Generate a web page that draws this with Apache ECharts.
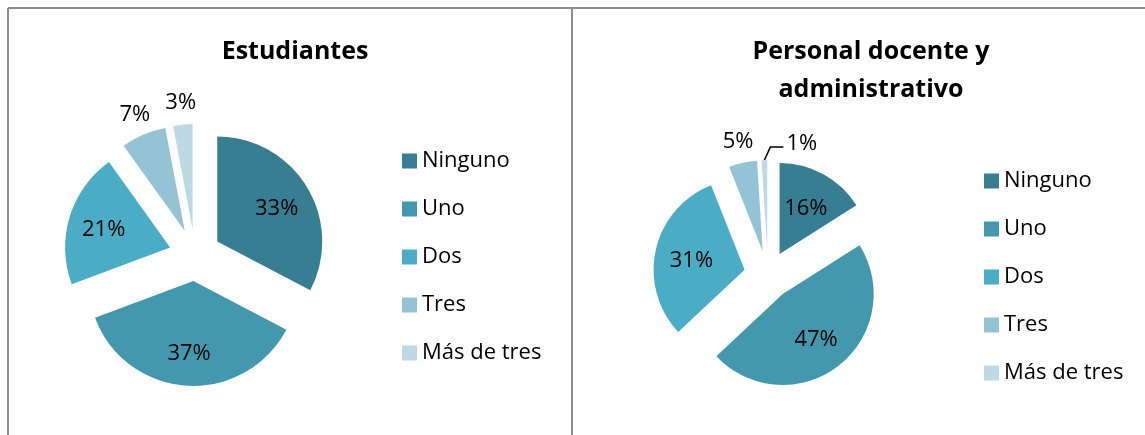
<!DOCTYPE html>
<html>
<head>
<meta charset="utf-8">
<script src="https://cdn.jsdelivr.net/npm/echarts@6/dist/echarts.min.js"></script>
<style>
html, body { margin: 0; padding: 0; background: #ffffff; }
#chart { width: 1145px; height: 435px; }
</style>
</head>
<body>
<div id="chart"></div>
<script>
const categories = ['Ninguno', 'Uno', 'Dos', 'Tres', 'Más de tres']
const estudiantes = [33, 37, 21, 7, 3]
const personal = [16, 47, 31, 5, 1]
const titles = ['Estudiantes', 'Personal docente y\nadministrativo']

const colors = ['#377e92', '#4398ae', '#4aacc5', '#93c3d4', '#bcd9e4']
const font = '"Open Sans", "Noto Sans", sans-serif'

const seriesValues = [estudiantes, personal]
// push inner labels a bit further out than echarts' half radius
const innerPush = [14, 6]

const midAngle = (values, i) => {
  const total = values.reduce((a, b) => a + b, 0)
  let before = 0
  for (let k = 0; k < i; k++) before += values[k]
  return (before + values[i] / 2) / total * Math.PI * 2
}

const layoutLabel = (params) => {
  const values = seriesValues[params.seriesIndex]
  const a = midAngle(values, params.dataIndex)
  if (params.dataIndex < 3) {
    const k = innerPush[params.seriesIndex]
    return { dx: k * Math.sin(a), dy: -k * Math.cos(a) + 3 }
  }
  if (params.seriesIndex === 1 && params.dataIndex === 4 && params.labelLinePoints) {
    // the 1% leader line bends to the right in the original
    const pts = params.labelLinePoints
    const p0 = pts[0]
    const p1 = [p0[0] + 6, pts[1][1]]
    const p2 = [p1[0] + 13, p1[1]]
    return {
      labelLinePoints: [p0, p1, p2],
      dx: (p2[0] + 3) - (pts[2][0] - 5),
      dy: -3,
      align: 'left'
    }
  }
  return { align: 'center', dx: 5 }
}

// small slices get their label outside, like the original
const buildData = (values, seriesIndex) => values.map((v, i) => {
  const item = {
    name: categories[i],
    value: v,
    selected: true,
    label: { position: i < 3 ? 'inside' : 'outside' }
  }
  if (seriesIndex === 1 && i === 4) {
    item.labelLine = { show: true, length: 13, length2: 13, lineStyle: { color: '#000000', width: 1.5 } }
  }
  return item
})

const pieSeries = (values, seriesIndex, center, r, offset) => ({
  type: 'pie',
  center: center,
  radius: r,
  startAngle: 90,
  clockwise: true,
  selectedMode: 'multiple',
  selectedOffset: offset,
  avoidLabelOverlap: false,
  select: { itemStyle: { borderWidth: 0 } },
  emphasis: { scale: false },
  label: {
    formatter: '{c}%',
    color: '#000000',
    fontSize: 22,
    fontFamily: font
  },
  labelLine: {
    show: false,
    length: 22,
    length2: 0
  },
  labelLayout: layoutLabel,
  data: buildData(values, seriesIndex)
})

const legendCfg = (left, top) => ({
  orient: 'vertical',
  left: left,
  top: top,
  icon: 'rect',
  itemWidth: 15,
  itemHeight: 15,
  itemGap: 26,
  selectedMode: false,
  textStyle: {
    color: '#000000',
    fontSize: 22,
    lineHeight: 22,
    fontFamily: font
  },
  data: categories
})

const chart = echarts.init(document.getElementById('chart'))

const option = {
  backgroundColor: '#ffffff',
  color: colors,
  animation: false,
  title: [
    {
      text: titles[0],
      left: 290,
      top: 34,
      textAlign: 'center',
      textStyle: { fontSize: 25, fontWeight: 'bold', fontFamily: font, color: '#000000', lineHeight: 25 }
    },
    {
      text: titles[1],
      left: 866,
      top: 28,
      textAlign: 'center',
      textStyle: { fontSize: 25, fontWeight: 'bold', fontFamily: font, color: '#000000', lineHeight: 38 }
    }
  ],
  legend: [legendCfg(397, 145), legendCfg(979, 165)],
  graphic: [
    { type: 'line', shape: { x1: 8, y1: 8, x2: 1145, y2: 8 }, style: { stroke: '#8c8c8c', lineWidth: 2 } },
    { type: 'line', shape: { x1: 8, y1: 8, x2: 8, y2: 435 }, style: { stroke: '#8c8c8c', lineWidth: 2 } },
    { type: 'line', shape: { x1: 572, y1: 8, x2: 572, y2: 435 }, style: { stroke: '#8c8c8c', lineWidth: 2 } }
  ],
  series: [
    pieSeries(estudiantes, 0, [195, 255], 105, 26),
    pieSeries(personal, 1, [768, 275], 91, 24)
  ]
}

chart.setOption(option)
</script>
</body>
</html>
